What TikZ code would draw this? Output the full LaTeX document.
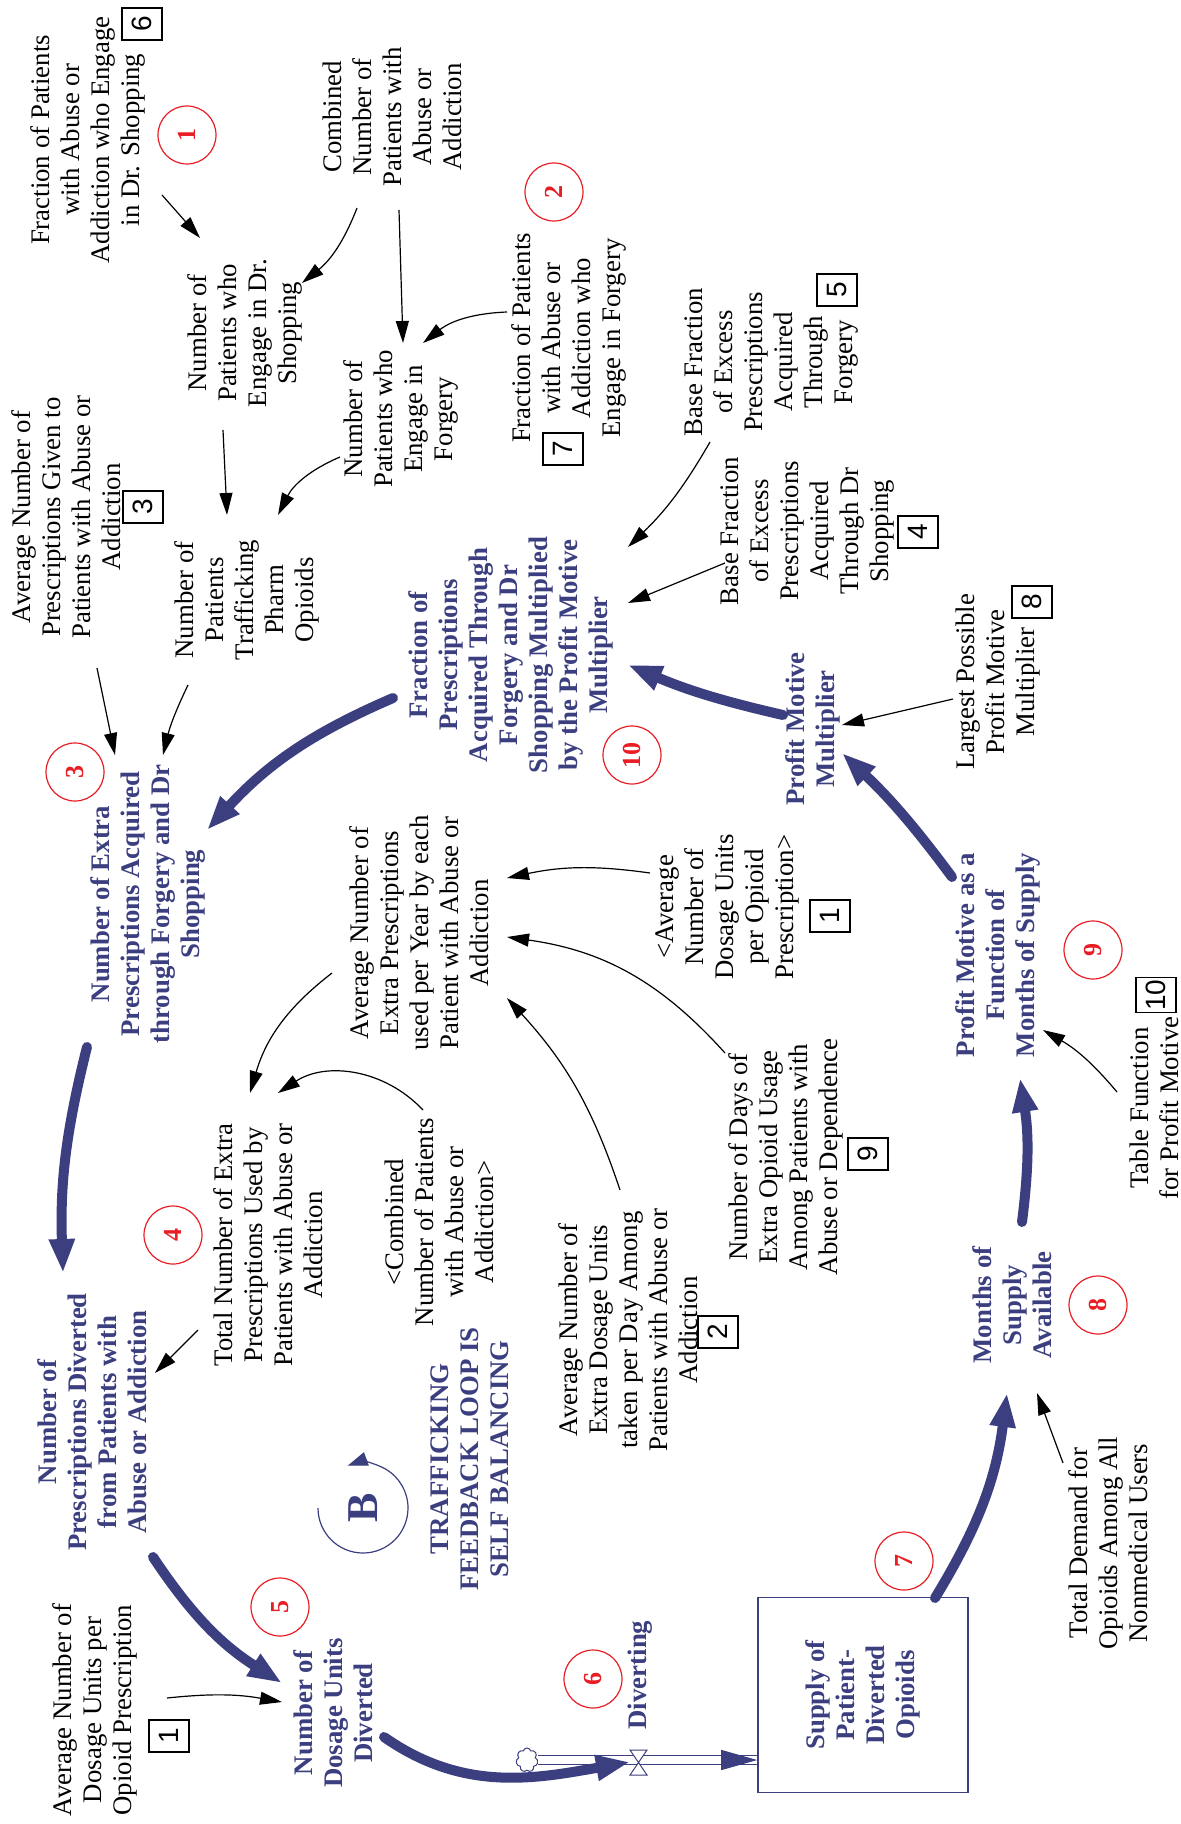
\documentclass[tikz,border=0pt]{standalone}
\usepackage{fontspec}
\setmainfont{Liberation Serif}
\setsansfont{Liberation Sans}
\usepackage{xcolor}
\usepackage{tikz}
\usetikzlibrary{arrows.meta,shapes.symbols,calc}
\definecolor{vblue}{RGB}{59,63,128}
\definecolor{vred}{RGB}{232,30,37}

\begin{document}
\begin{tikzpicture}[x=0.5pt,y=0.5pt,>={Triangle[length=11pt,width=6.5pt]},line width=0.6pt]
	\tikzstyle{var}=[rotate=90, align=center, inner sep=2pt, font=\fontsize{13.4}{15}\selectfont]
	\tikzstyle{keyvar}=[var, text=vblue, font=\fontsize{13.4}{15}\selectfont\bfseries]
	\tikzstyle{numbox}=[draw, rotate=90, minimum width=16pt, minimum height=20pt, inner sep=1pt, font=\sffamily\fontsize{14}{14}\selectfont]
	\tikzstyle{redtag}=[circle, draw=vred, text=vred, rotate=90, minimum size=29pt, inner sep=0pt, font=\fontsize{13}{13}\selectfont\bfseries]
	\tikzstyle{stock}=[draw=vblue, rotate=90, minimum width=97.5pt, minimum height=105pt, line width=0.8pt, align=center, text=vblue, font=\fontsize{13.4}{15}\selectfont\bfseries]
	\tikzstyle{link}=[->, black]
	\tikzstyle{mainlink}=[-{Triangle[length=17pt,width=12pt]}, vblue, line width=5pt, line cap=round]

	\useasboundingbox (0,0) rectangle (1181,-1824);

	\node[var] (fDrShop) at (88,-140) {Fraction of Patients\\with Abuse or\\Addiction who Engage\\in Dr. Shopping};
	\node[numbox] (b6) at (142,-24) {6};
	\node[redtag] (c1) at (187,-135) {1};
	\node[var] (nDrShop) at (245,-333) {Number of\\Patients who\\Engage in Dr.\\Shopping};
	\node[var] (combined) at (392,-117) {Combined\\Number of\\Patients with\\Abuse or\\Addiction};
	\node[var] (nForg) at (401,-419) {Number of\\Patients who\\Engage in\\Forgery};
	\node[redtag] (c2) at (554,-192) {2};
	\node[var] (fForg) at (569,-338) {Fraction of Patients\\with Abuse or\\Addiction who\\Engage in Forgery};
	\node[numbox] (b7) at (563,-449) {7};
	\node[var] (traffick) at (247,-600) {Number of\\Patients\\Trafficking\\Pharm\\Opioids};
	\node[var] (avgPresc) at (66,-517) {Average Number of\\Prescriptions Given to\\Patients with Abuse or\\Addiction};
	\node[numbox] (b3) at (143,-507) {3};
	\node[keyvar] (extraPresc) at (148,-904) {Number of Extra\\Prescriptions Acquired\\through Forgery and Dr\\Shopping};
	\node[redtag] (c3) at (75,-772) {3};
	\node[var] (avgExtra) at (419,-933) {Average Number of\\Extra Prescriptions\\used per Year by each\\Patient with Abuse or\\Addiction};
	\node[var] (total) at (268,-1245) {Total Number of Extra\\Prescriptions Used by\\Patients with Abuse or\\Addiction};
	\node[redtag] (c4) at (173,-1235) {4};
	\node[keyvar] (diverted) at (92,-1422) {Number of\\Prescriptions Diverted\\from Patients with\\Abuse or Addiction};
	\node[redtag] (c5) at (280,-1607) {5};
	\node[var] (avgDosage) at (95,-1710) {Average Number of\\Dosage Units per\\Opioid Prescription};
	\node[numbox] (b1a) at (169,-1736) {1};
	\node[keyvar] (units) at (333,-1713) {Number of\\Dosage Units\\Diverted};
	\node[keyvar, font=\fontsize{22}{22}\selectfont\bfseries] (loopB) at (363,-1508) {B};
	\node[keyvar] (loopText) at (470,-1459) {TRAFFICKING\\FEEDBACK LOOP IS\\SELF BALANCING};
	\node[var] (avgUnits) at (628,-1330) {Average Number of\\Extra Dosage Units\\taken per Day Among\\Patients with Abuse or\\Addiction};
	\node[numbox] (b2) at (718,-1332) {2};
	\node[var] (combined2) at (439,-1222) {<Combined\\Number of Patients\\with Abuse or\\Addiction>};
	\node[var] (avgDosage2) at (727,-907) {<Average\\Number of\\Dosage Units\\per Opioid\\Prescription>};
	\node[numbox] (b1b) at (830,-916) {1};
	\node[var] (days) at (786,-1157) {Number of Days of\\Extra Opioid Usage\\Among Patients with\\Abuse or Dependence};
	\node[numbox] (b9) at (868,-1154) {9};
	\node[keyvar] (fMult) at (511,-655) {Fraction of\\Prescriptions\\Acquired Through\\Forgery and Dr\\Shopping Multiplied\\by the Profit Motive\\Multiplier};
	\node[redtag] (c10) at (632,-755) {10};
	\node[var] (baseForg) at (772,-362) {Base Fraction\\of Excess\\Prescriptions\\Acquired\\Through\\Forgery};
	\node[numbox] (b5) at (837,-290) {5};
	\node[var] (baseDr) at (808,-531) {Base Fraction\\of Excess\\Prescriptions\\Acquired\\Through Dr\\Shopping};
	\node[numbox] (b4) at (918,-532) {4};
	\node[keyvar] (profit) at (813,-729) {Profit Motive\\Multiplier};
	\node[var] (largest) at (998,-682) {Largest Possible\\Profit Motive\\Multiplier};
	\node[numbox] (b8) at (1032,-602) {8};
	\node[keyvar] (pmFunc) at (998,-955) {Profit Motive as a\\Function of\\Months of Supply};
	\node[redtag] (c9) at (1093,-950) {9};
	\node[var] (table) at (1154,-1108) {Table Function\\for Profit Motive};
	\node[numbox] (b10) at (1156,-995) {10};
	\node[keyvar] (months) at (1012,-1305) {Months of\\Supply\\Available};
	\node[redtag] (c8) at (1098,-1305) {8};
	\node[var] (demand) at (1108,-1543) {Total Demand for\\Opioids Among All\\Nonmedical Users};
	\node[stock] (supply) at (863,-1695) {Supply of\\Patient-\\Diverted\\Opioids};
	\node[redtag] (c7) at (904,-1561) {7};
	\node[keyvar] (diverting) at (640,-1675) {Diverting};
	\node[redtag] (c6) at (593,-1679) {6};
	\node[cloud, draw=vblue, cloud puffs=7, aspect=1, minimum width=11pt, minimum height=12pt, inner sep=0pt, line width=0.5pt] (src) at (527,-1760) {};
	\coordinate (valve) at (638,-1762);

	\draw[vblue, line width=0.5pt, double distance=4pt] (src.east) -- (src.east -| supply.north);
	\draw[vblue, -{Triangle[length=18pt,width=10pt]}] ([xshift=-18pt]src.east -| supply.north) -- (src.east -| supply.north);

	\path[link]
		([shift={(74,-55)}]fDrShop.center) edge ([shift={(-45,95)}]nDrShop.center)
		([shift={(-35,-91)}]combined.center) edge[bend left=15] ([shift={(57,50)}]nDrShop.center)
		([shift={(7,-93)}]combined.center) edge ([shift={(2,76)}]nForg.center)
		([shift={(-62,26)}]fForg.center) edge[bend right=18] ([shift={(22,76)}]nForg.center)
		([shift={(-22,-97)}]nDrShop.center) edge ([shift={(-20,85)}]traffick.center)
		([shift={(-61,-38)}]nForg.center) edge[bend right=20] ([shift={(31,85)}]traffick.center)
		([shift={(31,-151)}]avgPresc.center) edge ([shift={(-33,149)}]extraPresc.center)
		([shift={(-59,-85)}]traffick.center) edge[bend right=6] ([shift={(15,149)}]extraPresc.center)
		([shift={(-87,-40)}]avgExtra.center) edge[bend right=18] ([shift={(-18,152)}]total.center)
		([shift={(-16,112)}]combined2.center) edge[bend right=40] ([shift={(10,152)}]total.center)
		([shift={(-70,-85)}]total.center) edge ([shift={(63,49)}]diverted.center)
		([shift={(72,12)}]avgDosage.center) edge[bend left=8] ([shift={(-51,11)}]units.center)
		([shift={(-8,140)}]avgUnits.center) edge[bend right=12] ([shift={(88,-65)}]avgExtra.center)
		([shift={(-61,104)}]days.center) edge[bend right=20] ([shift={(88,-4)}]avgExtra.center)
		([shift={(-77,34)}]avgDosage2.center) edge[bend right=10] ([shift={(88,55)}]avgExtra.center)
		([shift={(-62,-80)}]baseForg.center) edge[bend left=8] ([shift={(117,108)}]fMult.center)
		([shift={(-83,-32)}]baseDr.center) edge ([shift={(117,52)}]fMult.center)
		([shift={(-45,-17)}]largest.center) edge ([shift={(29,4)}]profit.center)
		([shift={(-37,16)}]table.center) edge[bend right=10] ([shift={(45,-75)}]pmFunc.center)
		([shift={(-45,80)}]demand.center) edge ([shift={(25,-88)}]months.center);

	\path[mainlink]
		([shift={(-118,-43)}]fMult.center) edge[bend right=12] ([shift={(59,74)}]extraPresc.center)
		([shift={(-61,-143)}]extraPresc.center) edge[bend right=8] ([shift={(-29,149)}]diverted.center)
		([shift={(61,-135)}]diverted.center) edge[bend right=12] ([shift={(-51,30)}]units.center)
		([shift={(-30,14)}]profit.center) edge[bend left=5] ([shift={(117,-10)}]fMult.center)
		([shift={(-46,78)}]pmFunc.center) edge[bend right=5] ([shift={(29,-24)}]profit.center)
		([shift={(10,83)}]months.center) edge[bend right=8] ([shift={(22,-123)}]pmFunc.center)
		([shift={(72,97)}]supply.center) edge[bend right=12] ([shift={(-5,-88)}]months.center)
		([shift={(51,-24)}]units.center) edge[out=-35, in=190] ([xshift=-4pt]valve);

	\draw[vblue, fill=white, line width=0.5pt] ([shift={(-8,12)}]valve) -- ++(17,0) -- ++(-17,-25) -- ++(17,0) -- cycle;
	\draw[vblue, -{Triangle[length=10pt,width=7pt]}] (loopB) ++(180:22.5pt) arc[start angle=180, end angle=470, radius=22.5pt];
\end{tikzpicture}
\end{document}
